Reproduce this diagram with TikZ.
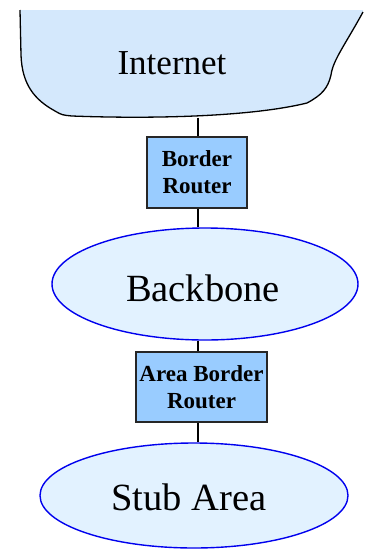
\documentclass[tikz,border=0pt]{standalone}
\usepackage{fontspec}
\setmainfont{Liberation Serif}
\usetikzlibrary{shapes.geometric}
\definecolor{cloudfill}{HTML}{D4E8FC}
\definecolor{ellfill}{HTML}{E2F2FF}
\definecolor{boxfill}{HTML}{99CCFF}
\definecolor{ellline}{HTML}{0000EE}
\tikzset{
  routerbox/.style={draw=black!85, line width=1.3pt, fill=boxfill, align=center, inner sep=0pt,
    font=\fontsize{23}{27}\selectfont\bfseries},
  area/.style={ellipse, draw=ellline, line width=1.4pt, fill=ellfill, inner sep=0pt,
    font=\fontsize{38.5}{44}\selectfont},
  link/.style={draw=black, line width=1.3pt}
}
\begin{document}
\begin{tikzpicture}[x=1pt,y=-1pt]
\useasboundingbox (0,0) rectangle (371,550);
% cloud
\fill[cloudfill] (20,10) -- (21,55) .. controls (22,85) and (35,100) .. (55,111)
  .. controls (62,115) .. (72,116) .. controls (150,119) and (250,117) .. (307,103)
  .. controls (322,95) and (328,88) .. (331,75) .. controls (333,60) and (345,45) .. (363,12)
  -- (363,10) -- cycle;
\draw[line width=1.3pt, line join=round] (20,10) -- (21,55) .. controls (22,85) and (35,100) .. (55,111)
  .. controls (62,115) .. (72,116) .. controls (150,119) and (250,117) .. (307,103)
  .. controls (322,95) and (328,88) .. (331,75) .. controls (333,60) and (345,45) .. (363,12);
\node[font=\fontsize{35}{40}\selectfont] (inettext) at (172,63) {Internet};
\coordinate (inet) at (198,117.5);
% nodes
\node[routerbox, minimum width=100pt, minimum height=71pt] (br) at (197,172.5) {Border\\Router};
\node[area, minimum width=306pt, minimum height=112pt] (bb) at (205,284) {};
\node[font=\fontsize{38.5}{44}\selectfont] (bbtext) at (203,288) {Backbone};
\node[routerbox, minimum width=131pt, minimum height=70pt] (abr) at (201.5,387) {Area Border\\Router};
\node[area, minimum width=308pt, minimum height=105pt] (stub) at (194,495.5) {};
\node[font=\fontsize{38.5}{44}\selectfont] (stubtext) at (189,497) {Stub Area};
% connectors
\draw[link] (inet) -- (inet |- br.north);
\draw[link] (inet |- br.south) -- (inet |- bb.north);
\draw[link] (inet |- bb.south) -- (inet |- abr.north);
\draw[link] (inet |- abr.south) -- (inet |- stub.north);
\end{tikzpicture}
\end{document}
